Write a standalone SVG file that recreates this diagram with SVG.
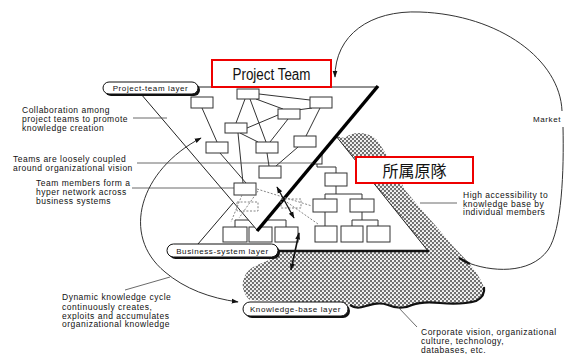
<svg xmlns="http://www.w3.org/2000/svg" width="570" height="354" viewBox="0 0 570 354">
<defs>
<pattern id="hatch" width="4" height="4" patternUnits="userSpaceOnUse">
<rect width="4" height="4" fill="#707070"/>
<circle cx="1" cy="1" r="1.1" fill="#fff"/>
<circle cx="3" cy="3" r="1.1" fill="#fff"/>
</pattern>
<marker id="ah" viewBox="0 0 10 10" refX="9" refY="5" markerWidth="7" markerHeight="7" orient="auto-start-reverse" markerUnits="userSpaceOnUse">
<path d="M0,1.5 L10,5 L0,8.5 Z" fill="#111"/>
</marker>
<style>
.nb{fill:#fff;stroke:#333;stroke-width:1}
.ln{fill:none;stroke:#333;stroke-width:1}
.dl{fill:none;stroke:#777;stroke-width:0.9;stroke-dasharray:2,1.6}
.pt{fill:none;stroke:#444;stroke-width:0.8}
.lb{font-family:"Liberation Sans",Arial,sans-serif;font-size:8.5px;letter-spacing:0.5px;fill:#111}
.pl{font-family:"Liberation Sans",Arial,sans-serif;font-size:8px;letter-spacing:0.6px;fill:#111}
.sh{fill:#111}
.pill{fill:#fff;stroke:#111;stroke-width:1}
.red{fill:#fff;stroke:#e00;stroke-width:2}
.cyc{fill:none;stroke:#333;stroke-width:1}
</style>
</defs>
<rect width="570" height="354" fill="#fff"/>

<g id="knowledge-base">
<path d="M330,135 L345,138 C352,131 368,131 377,140 L390,160 L405,190 L420,208 L435,225 L452,245 L468,262 C476,272 482,280 484,288 C485,296 480,300 474,302 C462,304 450,303 440,303 C430,302 420,302 412,305 C404,309 395,308 388,305 C380,302 372,305 365,307 C356,309 350,305 345,304 L250,300 C243,294 241,285 244,278 C247,270 254,266 262,263 C270,260 276,256 282,252 L300,200 Z" fill="url(#hatch)"/>
<path d="M350,305 C356,309 360,308 366,306 C373,304 380,302 388,305 C395,308 404,309 412,305 C420,302 430,302 440,303 C452,304 465,304 476,301 C482,298 485,293 484,287" fill="none" stroke="#111" stroke-width="2.2"/>
</g>

<g id="business-system">
<polygon points="314,108.5 428,251 192,251" fill="#fff" stroke="#222" stroke-width="1"/>
<line x1="278" y1="251" x2="429" y2="251" stroke="#111" stroke-width="2.6"/>
<path class="ln" d="M317,164 V167 H336 V173 M336,186 V194 M325,194 H362 M325,194 V199 M362,194 V199 M325,212 V226 M362,212 V220 M352,220 H378 M352,220 V226 M378,220 V226 M235,220 H286 M235,220 V227 M260,220 V227 M286,220 V227 M260,220 V210"/>
<rect class="nb" x="300" y="153" width="22" height="11"/>
<rect class="nb" x="325" y="173" width="22" height="13"/>
<rect class="nb" x="313" y="199" width="24" height="13"/>
<rect class="nb" x="350" y="199" width="24" height="13"/>
<rect class="nb" x="315" y="226" width="22" height="16"/>
<rect class="nb" x="341" y="226" width="22" height="16"/>
<rect class="nb" x="367" y="226" width="23" height="16"/>
<rect class="nb" x="223" y="227" width="24" height="15"/>
<rect class="nb" x="249" y="227" width="23" height="15"/>
<rect class="nb" x="275" y="227" width="23" height="15"/>
</g>

<g id="project-team">
<polygon points="135,87 377,87 257,230" fill="#fff" stroke="#222" stroke-width="1"/>
<path class="ln" d="M202,108 L217,142 M245,99 L236,123 M250,99 L266,142 M256,99 L283,109 M259,94 L310,100 M312,108 L297,110 M320,108 L306,136 M278,115 L247,128 M288,119 L270,142 M240,133 L258,142 M238,133 L243,183 M220,153 L246,183 M267,153 L269,166 M298,147 L276,166"/>
<rect class="nb" x="191" y="97" width="22" height="11"/>
<rect class="nb" x="237" y="89" width="22" height="10"/>
<rect class="nb" x="310" y="97" width="22" height="11"/>
<rect class="nb" x="278" y="109" width="22" height="10"/>
<rect class="nb" x="225" y="123" width="22" height="10"/>
<rect class="nb" x="206" y="142" width="22" height="11"/>
<rect class="nb" x="256" y="142" width="22" height="11"/>
<rect class="nb" x="294" y="136" width="22" height="11"/>
<rect class="nb" x="259" y="166" width="22" height="12"/>
<rect class="nb" x="234" y="183" width="22" height="12"/>
<line x1="378" y1="86" x2="257" y2="231" stroke="#000" stroke-width="3.5"/>
</g>

<g id="connectors">
<rect class="dl" x="237" y="202" width="21" height="9"/>
<rect class="dl" x="281" y="199" width="20" height="9"/>
<path class="dl" d="M257,189 L312,206 M242,195 L231,222 M258,191 L239,218 M281,198 L318,224"/>
<line x1="277" y1="187" x2="294" y2="218" stroke="#111" stroke-width="1.3" marker-start="url(#ah)" marker-end="url(#ah)"/>
<line x1="299" y1="233" x2="291" y2="270" stroke="#111" stroke-width="1.6" marker-start="url(#ah)" marker-end="url(#ah)"/>
<path class="cyc" d="M201,138 C140,170 120,235 165,272 C185,289 210,298 238,302" marker-start="url(#ah)" marker-end="url(#ah)"/>
<path class="cyc" d="M466,262 C490,272 530,275 548,250 C562,230 564,170 563,127"/>
<path class="cyc" d="M562,111 C560,60 500,15 420,12 C370,10 335,35 335,77" marker-end="url(#ah)"/>
<path d="M459,258 L470,264" stroke="#111" stroke-width="2.5" fill="none"/>
<path class="pt" d="M133,118 H167 M137,163 H313 M132,188 H234 M125,290 L170,277 M420,203 H457 M398,307 L417,327"/>
</g>

<g id="label-project-team-layer">
<rect class="sh" x="105" y="84" width="95" height="12" rx="6"/>
<rect class="pill" x="103" y="82" width="95" height="12" rx="6"/>
<text class="pl" x="150.5" y="91" text-anchor="middle">Project-team layer</text>
</g>
<g id="label-business-system-layer">
<rect class="sh" x="169" y="246" width="111" height="13" rx="6.5"/>
<rect class="pill" x="167" y="244" width="111" height="13" rx="6.5"/>
<text class="pl" x="222.5" y="253.5" text-anchor="middle">Business-system layer</text>
</g>
<g id="label-knowledge-base-layer">
<rect class="sh" x="245" y="304" width="105" height="14" rx="7"/>
<rect class="pill" x="243" y="302" width="105" height="14" rx="7"/>
<text class="pl" x="295.5" y="312" text-anchor="middle">Knowledge-base layer</text>
</g>

<g id="red-project-team">
<rect class="red" x="212" y="60" width="119" height="27"/>
<text x="271.5" y="80" text-anchor="middle" font-family="'Liberation Sans',Arial,sans-serif" font-size="16" textLength="78" lengthAdjust="spacingAndGlyphs" fill="#111">Project Team</text>
</g>
<g id="red-home-unit">
<rect class="red" x="356" y="157" width="117" height="26"/>
<text x="414.5" y="176.5" text-anchor="middle" font-family="'Noto Sans CJK TC','Noto Sans CJK JP',sans-serif" font-size="16" fill="#111">所属原隊</text>
</g>

<g id="annotations">
<text class="lb" x="22"><tspan x="22" y="113">Collaboration among</tspan><tspan x="22" y="122">project teams to promote</tspan><tspan x="22" y="130.5">knowledge creation</tspan></text>
<text class="lb" x="13"><tspan x="13" y="162">Teams are loosely coupled</tspan><tspan x="13" y="171">around organizational vision</tspan></text>
<text class="lb" x="36"><tspan x="36" y="186">Team members form a</tspan><tspan x="36" y="195">hyper network across</tspan><tspan x="36" y="204">business systems</tspan></text>
<text class="lb" x="62"><tspan x="62" y="300">Dynamic knowledge cycle</tspan><tspan x="62" y="309.5">continuously creates,</tspan><tspan x="62" y="318.5">exploits and accumulates</tspan><tspan x="62" y="327">organizational knowledge</tspan></text>
<text class="lb" x="463"><tspan x="463" y="198">High accessibility  to</tspan><tspan x="463" y="206.5">knowledge base by</tspan><tspan x="463" y="215">individual members</tspan></text>
<text class="lb" x="421"><tspan x="421" y="335">Corporate vision, organizational</tspan><tspan x="421" y="344">culture, technology,</tspan><tspan x="421" y="352.5">databases, etc.</tspan></text>
<text class="pl" x="533" y="122">Market</text>
</g>
</svg>
